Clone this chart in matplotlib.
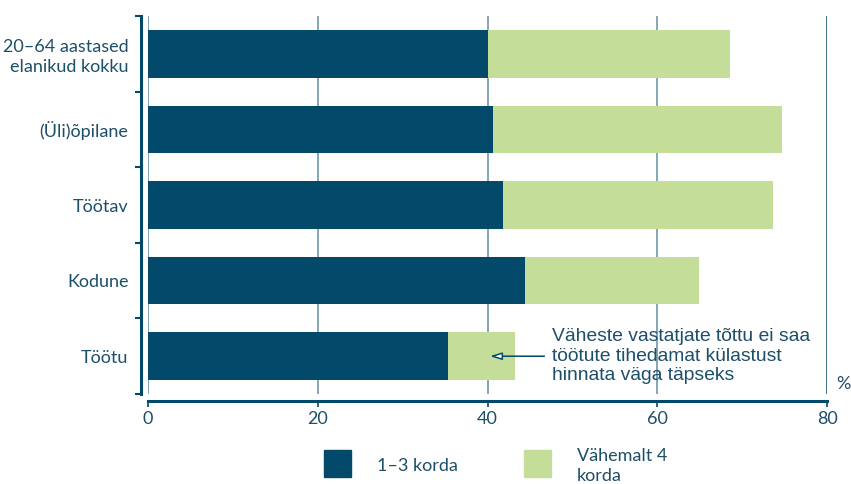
import matplotlib
matplotlib.use("Agg")
import matplotlib.pyplot as plt
from matplotlib.ticker import FixedLocator

categories = ["20–64 aastased\nelanikud kokku", "(Üli)õpilane", "Töötav", "Kodune", "Töötu"]
korda_1_3 = [40.0, 40.6, 41.8, 44.4, 35.3]
korda_4_plus = [28.6, 34.1, 31.8, 20.5, 7.9]
x_ticks = [0, 20, 40, 60, 80]
series_labels = ["1–3 korda", "Vähemalt 4\nkorda"]
note = "Väheste vastatjate tõttu ei saa\ntöötute tihedamat külastust\nhinnata väga täpseks"

dark = "#03496a"
light = "#c4dd98"
text_col = "#1d4f68"
grid_col = "#6f97a8"

plt.rcParams["font.family"] = ["Lato", "DejaVu Sans"]

fig = plt.figure(figsize=(8.51, 4.84), dpi=100)
ax = fig.add_axes([148 / 851, 1 - 394 / 484, (827 - 148) / 851, (394 - 16) / 484])

y = list(range(len(categories)))
ax.barh(y, korda_1_3, height=0.63, color=dark, zorder=2)
ax.barh(y, korda_4_plus, left=korda_1_3, height=0.63, color=light, zorder=2)

ax.set_xlim(0, 80)
ax.set_ylim(len(categories) - 0.5, -0.5)

for xv in x_ticks[:-1]:
    ax.axvline(xv, color=grid_col, lw=1.2, zorder=1)
ax.axvline(80, color=dark, lw=1.8, zorder=1)

for side in ["top", "right"]:
    ax.spines[side].set_visible(False)
ax.spines["left"].set_position(("outward", 5))
ax.spines["bottom"].set_position(("outward", 5))
for side in ["left", "bottom"]:
    ax.spines[side].set_color(dark)
    ax.spines[side].set_linewidth(2.2)

ax.set_xticks(x_ticks)
ax.set_xticklabels([str(v) for v in x_ticks])
ax.tick_params(axis="x", length=4.5, width=1.2, color=dark, colors=text_col,
               labelsize=13, pad=3)

ax.set_yticks(y)
ax.set_yticklabels(categories)
ax.yaxis.set_minor_locator(FixedLocator([i - 0.5 for i in range(len(categories) + 1)]))
ax.tick_params(axis="y", which="major", length=0, colors=text_col, labelsize=13, pad=9)
ax.tick_params(axis="y", which="minor", length=4, width=1.5, color=dark)
for lbl in ax.get_yticklabels():
    lbl.set_horizontalalignment("right")
    lbl.set_multialignment("right")
    lbl.set_linespacing(1.3)

ax.annotate("", xy=(40.3, 4), xytext=(46.7, 4),
            arrowprops=dict(arrowstyle="-|>,head_length=0.7,head_width=0.22",
                            fc="white", ec=dark, lw=1.1, shrinkA=0, shrinkB=0),
            zorder=4)
ax.text(47.6, 4, note, va="center", ha="left", fontsize=13.9, color=text_col,
        family=["Liberation Sans", "DejaVu Sans"], linespacing=1.2, zorder=4)

fig.text(843 / 851, 1 - 384 / 484, "%", ha="center", va="center",
         fontsize=13, color=text_col)

# legend drawn by hand
for (x0, lab, col) in [(324, series_labels[0], dark), (524, series_labels[1], light)]:
    fig.patches.append(plt.Rectangle((x0 / 851, 1 - 477 / 484), 27 / 851, 27 / 484,
                                     transform=fig.transFigure, color=col))
    fig.text((x0 + 53) / 851, 1 - 466 / 484, lab, ha="left", va="center",
             fontsize=13, color=text_col, linespacing=1.25)

fig.savefig("out.png", dpi=100)
